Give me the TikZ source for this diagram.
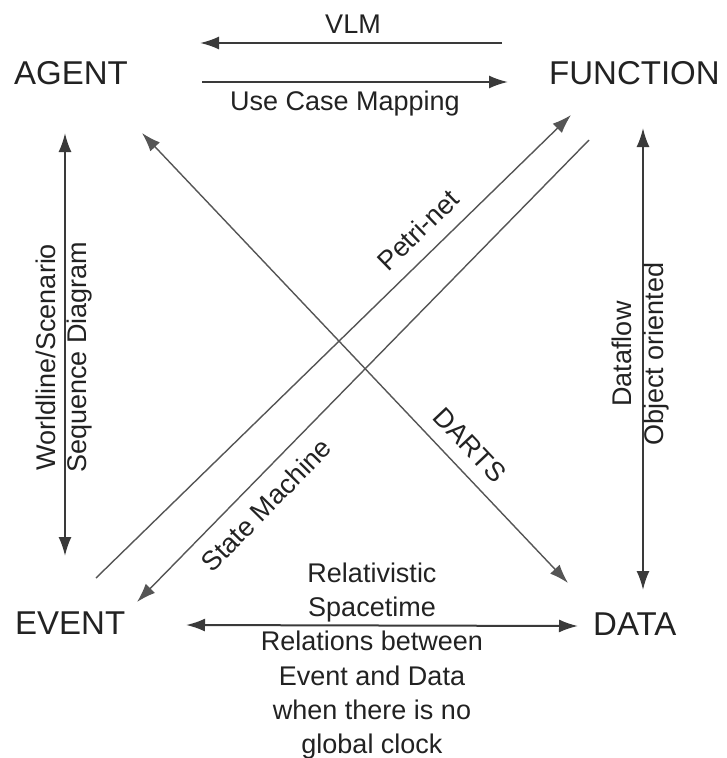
\documentclass[tikz,border=0pt]{standalone}
\usepackage{fontspec}
\setmainfont{Liberation Sans}
\usetikzlibrary{arrows.meta}
\definecolor{ink}{HTML}{222222}
\definecolor{wire}{HTML}{3A3A3A}
\definecolor{diag}{HTML}{555555}
\begin{document}
\begin{tikzpicture}[x=1pt,y=-1pt,
  corner/.style={font=\fontsize{33}{40}\selectfont, text=ink, inner sep=0pt, anchor=base west},
  lbl/.style={font=\fontsize{27}{34}\selectfont, text=ink, inner sep=0pt},
  headed/.style={-{Latex[length=19pt,width=13pt]}},
  twoheaded/.style={{Latex[length=19pt,width=13pt]}-{Latex[length=19pt,width=13pt]}},
  straight/.style={draw=wire, line width=2pt},
  slant/.style={draw=diag, line width=1.4pt}]
\useasboundingbox (0,0) rectangle (726,758);

% the four corners
\node[corner] (agent) at (14,84) {AGENT};
\node[corner] (function) at (549,84) {FUNCTION};
\node[corner] (event) at (15,634) {EVENT};
\node[corner] (data) at (593,635) {DATA};

% connector end points
\coordinate (vlmS) at (502,43);   \coordinate (vlmE) at (200,43);
\coordinate (ucmS) at (202,82);   \coordinate (ucmE) at (508,82);
\coordinate (wlT) at (65,133);    \coordinate (wlB) at (65,556);
\coordinate (dfT) at (643,128);   \coordinate (dfB) at (643,590);
\coordinate (rsL) at (186,625);   \coordinate (rsR) at (578,626);
\coordinate (dtA) at (142,133);   \coordinate (dtD) at (568,583);
\coordinate (pnS) at (96,578);    \coordinate (pnE) at (571,115);
\coordinate (smS) at (589,140);   \coordinate (smE) at (137,602);

% top pair
\draw[straight, headed] (vlmS) -- (vlmE);
\draw[straight, headed] (ucmS) -- (ucmE);
\node[lbl] (vlm) at (353,24) {VLM};
\node[lbl] (ucm) at (345,104) {Use Case Mapping};

% verticals
\draw[straight, twoheaded] (wlT) -- (wlB);
\draw[straight, twoheaded] (dfT) -- (dfB);
\node[lbl, rotate=90] (worldline) at (46,357) {Worldline/Scenario};
\node[lbl, rotate=90] (sequence) at (80,357) {Sequence Diagram};
\node[lbl, rotate=90] (dataflow) at (622,354) {Dataflow};
\node[lbl, rotate=90] (object) at (657,354) {Object oriented};

% diagonals
\draw[slant, twoheaded] (dtA) -- (dtD);
\draw[slant, headed] (pnS) -- (pnE);
\draw[slant, headed] (smS) -- (smE);
\node[lbl, rotate=-46.6] (darts) at (470,445) {DARTS};
\node[lbl, rotate=44.3] (petri) at (418,230) {Petri-net};
\node[lbl, rotate=45.6] (state) at (266,505) {State Machine};

% bottom
\draw[straight, twoheaded] (rsL) -- (rsR);
\node[lbl, align=center, font=\fontsize{27}{34.2}\selectfont] (rel) at (372,661)
  {Relativistic\\Spacetime\\Relations between\\Event and Data\\when there is no\\global clock};
\end{tikzpicture}
\end{document}
